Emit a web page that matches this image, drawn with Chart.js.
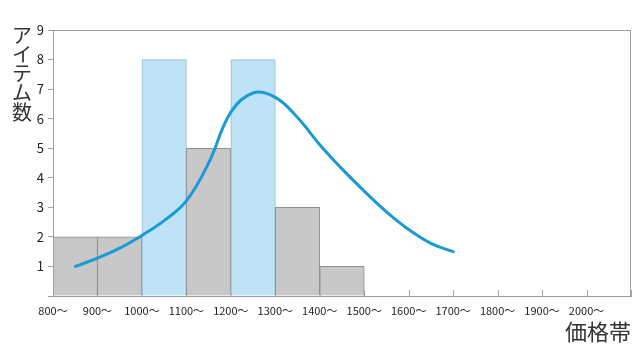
<!DOCTYPE html>
<html>
<head>
<meta charset="utf-8">
<script src="https://cdn.jsdelivr.net/npm/chart.js@4"></script>
<style>
  body { margin: 0; background: #fff; }
  #wrap { width: 641px; height: 361px; }
</style>
</head>
<body>
<div id="wrap"><canvas id="chart" width="641" height="361"></canvas></div>
<script>
// histogram bins (centre of each 100-wide price band)
const binCenters = [850, 950, 1050, 1150, 1250, 1350, 1450];
const binCounts = [2, 2, 8, 5, 8, 3, 1];
const binHighlight = [false, false, true, false, true, false, false];

// smoothed curve
const curveX = [850, 900, 950, 1000, 1050, 1100, 1150, 1200, 1250, 1300, 1350, 1400, 1450, 1500, 1550, 1600, 1650, 1700];
const curveY = [1.0, 1.28, 1.62, 2.05, 2.55, 3.22, 4.5, 6.22, 6.87, 6.72, 6.04, 5.12, 4.3, 3.55, 2.85, 2.25, 1.78, 1.5];

const xTicks = [800, 900, 1000, 1100, 1200, 1300, 1400, 1500, 1600, 1700, 1800, 1900, 2000, 2100];
const yTicks = [1, 2, 3, 4, 5, 6, 7, 8, 9];
const xTitle = '価格帯';
const yTitle = 'アイテム数';

Chart.defaults.font.family = '"Noto Sans CJK JP", "Noto Sans", sans-serif';
Chart.defaults.color = '#222';

const frame = {
    id: 'frame',
    beforeDatasetsDraw(chart) {
        const { ctx, chartArea: a, scales: { x } } = chart;
        ctx.save();
        ctx.strokeStyle = '#a8a8a8';
        ctx.lineWidth = 1;
        xTicks.forEach(v => {
            const px = Math.round(x.getPixelForValue(v)) + 0.5;
            ctx.beginPath();
            ctx.moveTo(px, a.bottom);
            ctx.lineTo(px, a.bottom - 6);
            ctx.stroke();
        });
        ctx.restore();
    },
    afterDatasetsDraw(chart) {
        const { ctx, chartArea: a } = chart;
        ctx.save();
        ctx.strokeStyle = '#a0a0a0';
        ctx.lineWidth = 1;
        ctx.strokeRect(a.left + 0.5, a.top + 0.5, a.right - a.left - 1, a.bottom - a.top);
        ctx.restore();
    },
    afterDraw(chart) {
        const { ctx } = chart;
        ctx.save();
        ctx.fillStyle = '#333';
        ctx.font = '20px "Noto Sans CJK JP", sans-serif';
        ctx.textAlign = 'center';
        ctx.textBaseline = 'middle';
        [...yTitle].forEach((ch, i) => {
            ctx.fillText(ch, 22, 35 + i * 19.3);
        });
        ctx.restore();
    }
};

new Chart(document.getElementById('chart'), {
    type: 'bar',
    data: {
        datasets: [
            {
                type: 'line',
                data: curveX.map((v, i) => ({ x: v, y: curveY[i] })),
                borderColor: '#1a9ad7',
                borderWidth: 3,
                pointRadius: 0,
                tension: 0.4,
                borderCapStyle: 'round',
                fill: false,
                order: 0,
            },
            {
                data: binCenters.map((v, i) => ({ x: v, y: binCounts[i] })),
                backgroundColor: binHighlight.map(h => h ? '#bee3f7' : '#c8c8c9'),
                borderColor: binHighlight.map(h => h ? '#98b8ca' : '#8e8e8e'),
                borderWidth: 1,
                barPercentage: 1,
                categoryPercentage: 1,
                order: 1,
            },
        ],
    },
    options: {
        responsive: false,
        animation: false,
        layout: { padding: { left: 0, right: 10, top: 30, bottom: 0 } },
        plugins: {
            legend: { display: false },
            tooltip: { enabled: false },
        },
        scales: {
            x: {
                type: 'linear',
                offset: false,
                min: 800,
                max: 2100,
                afterBuildTicks(scale) {
                    scale.ticks = xTicks.map(v => ({ value: v }));
                },
                afterFit(scale) {
                    scale.height = 65;
                },
                grid: { display: false, drawTicks: false },
                border: { display: true, color: '#a0a0a0' },
                ticks: {
                    padding: 8,
                    maxRotation: 0,
                    autoSkip: false,
                    font: { size: 11 },
                    color: '#222',
                    callback: v => (v === 2100 ? '' : v + '〜'),
                },
                title: {
                    display: true,
                    text: xTitle,
                    align: 'end',
                    color: '#333',
                    font: { size: 22 },
                    padding: { top: 0, bottom: 16 },
                },
            },
            y: {
                min: 0,
                max: 9,
                afterBuildTicks(scale) {
                    scale.ticks = [0].concat(yTicks).map(v => ({ value: v }));
                },
                afterFit(scale) {
                    scale.width = 53;
                },
                grid: { drawOnChartArea: false, tickLength: 5, color: '#a0a0a0' },
                border: { display: true, color: '#a0a0a0' },
                ticks: {
                    padding: 4,
                    font: { size: 13 },
                    color: '#222',
                    callback: v => (v === 0 ? '' : v),
                },
            },
        },
    },
    plugins: [frame],
});
</script>
</body>
</html>
